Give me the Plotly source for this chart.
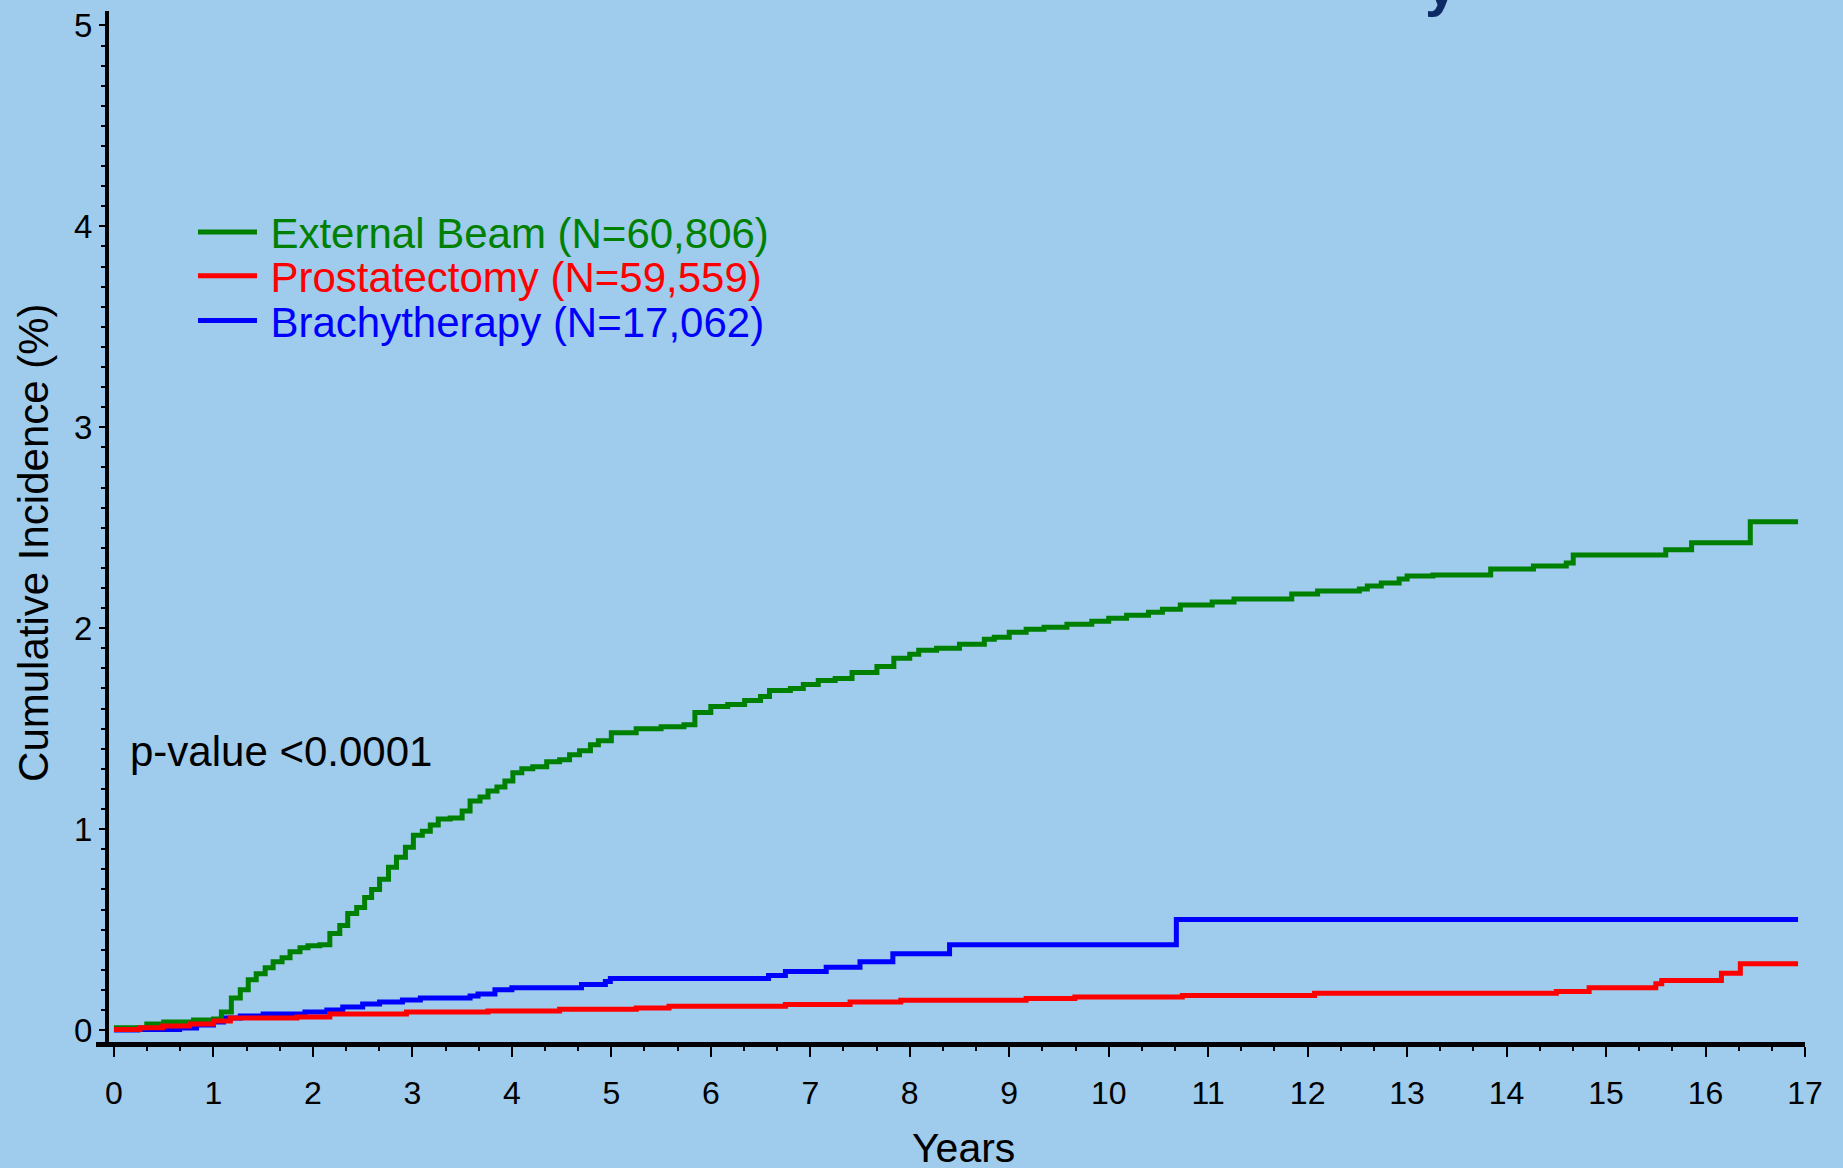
import plotly.graph_objects as go

# ---------------- data ----------------
years_ebrt = [0, 0.33, 0.5, 0.8, 1.0, 1.08, 1.18, 1.27, 1.35, 1.43, 1.52, 1.6, 1.69, 1.77, 1.87, 1.95,
              2.07, 2.17, 2.27, 2.35, 2.44, 2.52, 2.59, 2.67, 2.76, 2.84, 2.93, 3.01, 3.1, 3.18, 3.26,
              3.38, 3.5, 3.58, 3.68, 3.76, 3.85, 3.93, 4.01, 4.1, 4.21, 4.35, 4.48, 4.58, 4.68, 4.79,
              4.87, 5.0, 5.25, 5.5, 5.73, 5.84, 6.0, 6.17, 6.34, 6.5, 6.59, 6.8, 6.93, 7.08, 7.25,
              7.42, 7.67, 7.84, 8.0, 8.09, 8.27, 8.5, 8.75, 8.85, 9.0, 9.17, 9.35, 9.58, 9.83, 10.0,
              10.18, 10.4, 10.54, 10.72, 11.04, 11.26, 11.84, 12.1, 12.52, 12.6, 12.74, 12.92, 13.0,
              13.26, 13.84, 14.27, 14.6, 14.67, 15.6, 15.86, 16.45, 16.93]
cuminc_ebrt = [0.012, 0.03, 0.04, 0.05, 0.055, 0.09, 0.16, 0.20, 0.25, 0.28, 0.31, 0.34, 0.36, 0.39,
               0.41, 0.42, 0.425, 0.48, 0.52, 0.58, 0.61, 0.66, 0.70, 0.75, 0.81, 0.86, 0.91, 0.97,
               0.99, 1.02, 1.05, 1.055, 1.09, 1.14, 1.16, 1.19, 1.21, 1.24, 1.28, 1.30, 1.31, 1.335,
               1.345, 1.37, 1.39, 1.42, 1.44, 1.48, 1.50, 1.51, 1.52, 1.58, 1.61, 1.62, 1.64, 1.66,
               1.69, 1.70, 1.72, 1.74, 1.75, 1.78, 1.81, 1.85, 1.87, 1.89, 1.90, 1.92, 1.945, 1.955,
               1.98, 1.995, 2.005, 2.02, 2.035, 2.05, 2.065, 2.08, 2.095, 2.115, 2.13, 2.145, 2.17,
               2.185, 2.195, 2.21, 2.225, 2.245, 2.26, 2.265, 2.295, 2.31, 2.325, 2.365, 2.39, 2.425,
               2.53, 2.53]

years_rp = [0, 0.26, 0.49, 0.76, 1.0, 1.17, 1.84, 2.17, 2.94, 3.76, 4.48, 5.25, 5.58, 6.75, 7.4,
            7.91, 9.17, 9.66, 10.74, 12.07, 14.5, 14.83, 15.5, 15.56, 16.16, 16.35, 16.93]
cuminc_rp = [0.003, 0.012, 0.02, 0.03, 0.045, 0.06, 0.065, 0.08, 0.09, 0.095, 0.103, 0.11, 0.118,
             0.127, 0.14, 0.148, 0.157, 0.165, 0.172, 0.183, 0.192, 0.21, 0.23, 0.247, 0.283, 0.33,
             0.33]

years_brachy = [0, 0.24, 0.66, 0.83, 1.0, 1.1, 1.27, 1.5, 1.92, 2.14, 2.3, 2.5, 2.67, 2.9, 3.08,
                3.58, 3.66, 3.83, 4.0, 4.7, 4.94, 4.99, 6.58, 6.75, 7.16, 7.5, 7.83, 8.4, 10.68, 16.93]
cuminc_brachy = [0.0, 0.003, 0.01, 0.025, 0.04, 0.06, 0.07, 0.08, 0.09, 0.10, 0.115, 0.13, 0.14,
                 0.15, 0.16, 0.17, 0.18, 0.20, 0.21, 0.227, 0.242, 0.257, 0.272, 0.292, 0.312, 0.34,
                 0.38, 0.425, 0.55, 0.55]

series_names = ["External Beam (N=60,806)", "Prostatectomy (N=59,559)", "Brachytherapy (N=17,062)"]
x_ticks = list(range(0, 18))
y_ticks = [0, 1, 2, 3, 4, 5]

# ---------------- styling ----------------
BG = "#9FCBEC"
FONT = "Arial, Liberation Sans, sans-serif"
GREEN, RED, BLUE = "#008000", "#FF0000", "#0000FF"
W, H = 1843, 1168
ML, MR, MT, MB = 109, 38, 7, 126
PW, PH = W - ML - MR, H - MT - MB


def px_x(px):
    return (px - ML) / PW


def px_y(py):
    return (H - MB - py) / PH


fig = go.Figure()
fig.add_trace(go.Scatter(x=years_brachy, y=cuminc_brachy, mode="lines", line_shape="hv",
                         line=dict(color=BLUE, width=5), name="\u2009" + series_names[2],
                         legend="legend3"))
fig.add_trace(go.Scatter(x=years_ebrt, y=cuminc_ebrt, mode="lines", line_shape="hv",
                         line=dict(color=GREEN, width=5), name="\u2009" + series_names[0],
                         legend="legend"))
fig.add_trace(go.Scatter(x=years_rp, y=cuminc_rp, mode="lines", line_shape="hv",
                         line=dict(color=RED, width=5), name="\u2009" + series_names[1],
                         legend="legend2"))


def legend_cfg(color, py):
    return dict(x=px_x(193), y=px_y(py), xanchor="left", yanchor="middle",
                bgcolor="rgba(0,0,0,0)", borderwidth=0, itemwidth=59,
                font=dict(family=FONT, size=42, color=color))


fig.update_layout(
    width=W, height=H,
    margin=dict(l=ML, r=MR, t=MT, b=MB, pad=0),
    paper_bgcolor=BG, plot_bgcolor=BG,
    font=dict(family=FONT, color="black"),
    showlegend=True,
    legend=legend_cfg(GREEN, 229),
    legend2=legend_cfg(RED, 273),
    legend3=legend_cfg(BLUE, 318),
    xaxis=dict(range=[-0.05, 17], tickmode="array", tickvals=x_ticks,
               ticks="outside", ticklen=10, tickwidth=2, tickcolor="black",
               showline=True, linewidth=5, linecolor="black",
               showgrid=False, zeroline=False,
               tickfont=dict(family=FONT, size=32, color="black"),
               ticklabelstandoff=9,
               minor=dict(tick0=0, dtick=1 / 3, ticks="outside", ticklen=4, tickwidth=2,
                          tickcolor="black", showgrid=False)),
    yaxis=dict(range=[-0.0595, 5.072], tickmode="array", tickvals=y_ticks,
               ticks="outside", ticklen=6, tickwidth=2, tickcolor="black",
               showline=True, linewidth=4, linecolor="black",
               showgrid=False, zeroline=False,
               tickfont=dict(family=FONT, size=33, color="black"),
               ticklabelstandoff=0,
               minor=dict(tick0=0, dtick=0.1, ticks="outside", ticklen=4, tickwidth=2,
                          tickcolor="black", showgrid=False)),
)

# x-axis line extends a little to the left of the y-axis
fig.add_shape(type="line", xref="paper", yref="paper",
              x0=px_x(96), x1=px_x(112), y0=px_y(1044.5), y1=px_y(1044.5),
              line=dict(color="black", width=5))

annotations = [
    dict(text="Cumulative Incidence (%)", x=px_x(34), y=px_y(541), textangle=-90,
         font=dict(family=FONT, size=42, color="black")),
    dict(text="Years", x=px_x(964), y=px_y(1148),
         font=dict(family=FONT, size=41, color="black")),
    dict(text="p-value &lt;0.0001", x=px_x(129), y=px_y(750.5), xanchor="left",
         font=dict(family=FONT, size=42, color="black")),
    dict(text="<b>y</b>", x=px_x(1441), y=px_y(14), yanchor="bottom",
         font=dict(family=FONT, size=58, color="#0B2A66")),
]
for a in annotations:
    a.setdefault("xanchor", "center")
    a.setdefault("yanchor", "middle")
    fig.add_annotation(xref="paper", yref="paper", showarrow=False, borderpad=0, **a)

fig.write_html("out.html")
